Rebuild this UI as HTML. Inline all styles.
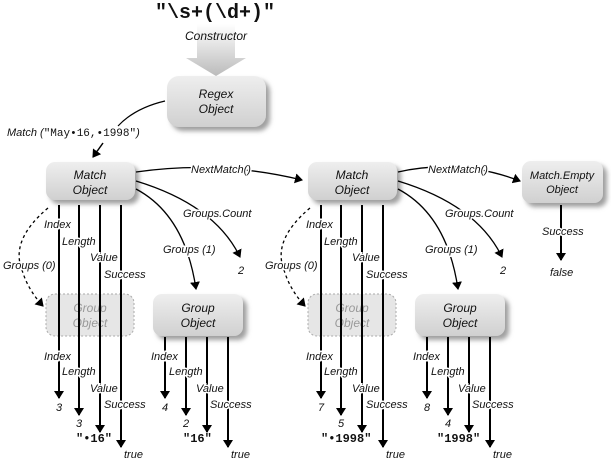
<!DOCTYPE html>
<html><head><style>
html,body{margin:0;padding:0;background:#fff;width:611px;height:463px;overflow:hidden}
svg text{font-family:"Liberation Sans",sans-serif;font-style:italic;font-size:11px;fill:#111}
.lb{paint-order:stroke;stroke:#fff;stroke-width:3px}
.mono{font-family:"Liberation Mono",monospace;font-style:normal;font-weight:bold;font-size:12px}
</style></head><body>
<svg width="611" height="463" viewBox="0 0 611 463" xmlns="http://www.w3.org/2000/svg">
<defs>
<marker id="a" markerWidth="8" markerHeight="10" refX="7" refY="5" orient="auto" markerUnits="userSpaceOnUse"><path d="M0,0 L8,5 L0,10 z" fill="#000"/></marker>
<linearGradient id="g" x1="0" y1="0" x2="0" y2="1"><stop offset="0" stop-color="#eee"/><stop offset="1" stop-color="#d0d0d0"/></linearGradient>
<linearGradient id="ag" x1="0" y1="0" x2="0" y2="1"><stop offset="0" stop-color="#fff"/><stop offset="1" stop-color="#bbb"/></linearGradient>
<filter id="s" x="-20%" y="-20%" width="150%" height="150%"><feDropShadow dx="4" dy="4" stdDeviation="2.5" flood-color="#777" flood-opacity="0.7"/></filter>
</defs>
<!-- title -->
<text x="215" y="18" text-anchor="middle" class="mono" style="font-size:20px">"\s+(\d+)"</text>
<path d="M197,24 H235 V58 H246 L216,76 L186,58 H197 Z" fill="url(#ag)"/>
<text x="216" y="40" text-anchor="middle" style="font-size:12px">Constructor</text>
<rect x="167" y="76" width="99" height="51" rx="12" fill="url(#g)" filter="url(#s)"/>
<text x="216" y="98" text-anchor="middle" style="font-size:12px">Regex</text>
<text x="216" y="113" text-anchor="middle" style="font-size:12px">Object</text>
<path d="M165,101 Q135,108 118,126" fill="none" stroke="#000" stroke-width="1.2"/>
<text x="7" y="136">Match (<tspan class="mono" style="font-weight:normal;font-size:11px">"May•16,•1998"</tspan>)</text>
<path d="M103,143 L93,157" fill="none" stroke="#000" stroke-width="1.5" marker-end="url(#a)"/>

<g id="half">
<rect x="46" y="162" width="89" height="38" rx="9" fill="url(#g)" filter="url(#s)"/>
<text x="90" y="179" text-anchor="middle" style="font-size:12px">Match</text>
<text x="90" y="194" text-anchor="middle" style="font-size:12px">Object</text>
<!-- group dashed -->
<rect x="46" y="294" width="88" height="42" rx="9" fill="#e6e6e6" stroke="#aaa" stroke-dasharray="2,2"/>
<text x="90" y="312" text-anchor="middle" style="font-size:12px;fill:#999">Group</text>
<text x="90" y="327" text-anchor="middle" style="font-size:12px;fill:#999">Object</text>
<g stroke="#000" stroke-width="2" fill="none">
<path d="M59,205 V398" marker-end="url(#a)"/>
<path d="M79,205 V415" marker-end="url(#a)"/>
<path d="M100,205 V432" marker-end="url(#a)"/>
<path d="M121,205 V447" marker-end="url(#a)"/>
</g>
<text class="lb" x="44" y="228">Index</text>
<text class="lb" x="62" y="245">Length</text>
<text class="lb" x="90" y="261">Value</text>
<text class="lb" x="104" y="278">Success</text>
<text class="lb" x="44" y="360">Index</text>
<text class="lb" x="62" y="375">Length</text>
<text class="lb" x="90" y="392">Value</text>
<text class="lb" x="104" y="408">Success</text>
<!-- groups(0) -->
<path d="M48,208 Q10,240 22,270 Q28,290 43,306" fill="none" stroke="#000" stroke-width="1.3" stroke-dasharray="3,3" marker-end="url(#a)"/>
<text class="lb" x="3" y="269">Groups (0)</text>
<!-- groups(1) -->
<path d="M136,189 Q185,215 196,289" fill="none" stroke="#000" stroke-width="1.3" marker-end="url(#a)"/>
<text class="lb" x="163" y="253">Groups (1)</text>
<!-- groups.count -->
<path d="M136,181 Q215,205 240,257" fill="none" stroke="#000" stroke-width="1.3" marker-end="url(#a)"/>
<text class="lb" x="183" y="217">Groups.Count</text>
<text x="238" y="274">2</text>
<!-- group 2 -->
<rect x="153" y="294" width="90" height="42" rx="9" fill="url(#g)" filter="url(#s)"/>
<text x="198" y="312" text-anchor="middle" style="font-size:12px">Group</text>
<text x="198" y="327" text-anchor="middle" style="font-size:12px">Object</text>
<g stroke="#000" stroke-width="2" fill="none">
<path d="M165,337 V398" marker-end="url(#a)"/>
<path d="M186,337 V415" marker-end="url(#a)"/>
<path d="M207,337 V432" marker-end="url(#a)"/>
<path d="M228,337 V447" marker-end="url(#a)"/>
</g>
<text class="lb" x="151" y="360">Index</text>
<text class="lb" x="169" y="375">Length</text>
<text class="lb" x="196" y="392">Value</text>
<text class="lb" x="210" y="408">Success</text>
<text x="124" y="458">true</text>
<text x="231" y="458">true</text>
</g>
<use href="#half" transform="translate(262,0)"/>

<!-- values left -->
<text x="56" y="411">3</text><text x="76" y="427">3</text>
<text x="76" y="442" class="mono">"•16"</text>
<text x="162" y="411">4</text><text x="183" y="427">2</text>
<text x="183" y="442" class="mono">"16"</text>
<!-- values right -->
<text x="318" y="411">7</text><text x="338" y="427">5</text>
<text x="321" y="442" class="mono">"•1998"</text>
<text x="424" y="411">8</text><text x="445" y="427">4</text>
<text x="437" y="442" class="mono">"1998"</text>

<!-- NextMatch -->
<path d="M136,172 Q220,160 302,180" fill="none" stroke="#000" stroke-width="1.3" marker-end="url(#a)"/>
<text class="lb" x="191" y="173">NextMatch()</text>
<path d="M398,172 Q460,158 520,181" fill="none" stroke="#000" stroke-width="1.3" marker-end="url(#a)"/>
<text class="lb" x="428" y="173">NextMatch()</text>
<rect x="522" y="161" width="81" height="42" rx="9" fill="url(#g)" filter="url(#s)"/>
<text x="562" y="179" text-anchor="middle">Match.Empty</text>
<text x="562" y="193" text-anchor="middle">Object</text>
<path d="M561,205 V260" stroke="#000" stroke-width="2" fill="none" marker-end="url(#a)"/>
<text class="lb" x="542" y="235">Success</text>
<text x="550" y="276">false</text>
</svg>
</body></html>
